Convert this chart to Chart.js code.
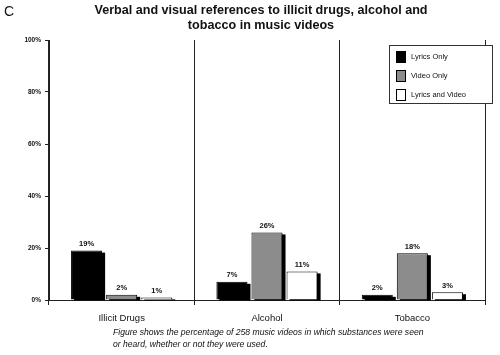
<!DOCTYPE html>
<html><head><meta charset="utf-8">
<script src="https://cdn.jsdelivr.net/npm/chart.js@4"></script>
<style>
html,body{margin:0;padding:0;background:#fff;}
#wrap{position:relative;width:500px;height:355px;font-family:"Liberation Sans",Arial,sans-serif;color:#111;}
canvas{position:absolute;left:0;top:0;}
#letter{position:absolute;left:4px;top:3px;font-size:14px;}
#title{position:absolute;left:61px;width:400px;top:3px;text-align:center;font-weight:bold;font-size:12.6px;line-height:15px;}
#caption{position:absolute;left:113px;top:326px;font-style:italic;font-size:8.6px;line-height:12px;}
#legend{position:absolute;left:389px;top:45px;width:102px;height:57px;border:1px solid #333;background:#fff;will-change:transform;-webkit-font-smoothing:antialiased;}
.li{position:absolute;left:6px;font-size:7.5px;color:#111;}
.sw{position:absolute;left:0;width:8px;height:10px;border:1px solid #000;}
.lt{position:absolute;left:15px;top:1px;white-space:nowrap;color:#111;}
</style></head>
<body><div id="wrap">
<canvas id="c" width="500" height="355"></canvas>
<div id="letter">C</div>
<div id="title">Verbal and visual references to illicit drugs, alcohol and<br>tobacco in music videos</div>
<div id="legend"></div>
<div id="caption">Figure shows the percentage of 258 music videos in which substances were seen<br>or heard, whether or not they were used.</div>
</div>
<script>
const categories = ["Illicit Drugs", "Alcohol", "Tobacco"];
const seriesNames = ["Lyrics Only", "Video Only", "Lyrics and Video"];
const lyricsOnly = [19, 7, 2];
const videoOnly = [2, 26, 18];
const lyricsAndVideo = [1, 11, 3];
const yTicks = [0, 20, 40, 60, 80, 100];
const colors = ["#000000", "#8c8c8c", "#ffffff"];

const leg = document.getElementById('legend');
seriesNames.forEach((n, i) => {
  const d = document.createElement('div');
  d.className = 'li';
  d.style.top = (5 + i * 19) + 'px';
  d.innerHTML = '<div class="sw" style="background:' + colors[i] + '"></div><div class="lt">' + n + '</div>';
  leg.appendChild(d);
});

const shadowPlugin = {
  id: 'shadow',
  beforeDatasetDraw(chart, args) {
    const ctx = chart.ctx;
    ctx.save();
    ctx.fillStyle = '#000';
    chart.getDatasetMeta(args.index).data.forEach(bar => {
      const p = bar.getProps(['x', 'y', 'base', 'width'], true);
      const h = p.base - p.y;
      ctx.fillRect(p.x - p.width / 2 + 3, p.y + 2, p.width, h - 1);
    });
    ctx.restore();
  }
};
const labelPlugin = {
  id: 'vlabels',
  afterDatasetsDraw(chart) {
    const ctx = chart.ctx;
    ctx.save();
    ctx.font = 'bold 7.5px "Liberation Sans", Arial, sans-serif';
    ctx.fillStyle = '#111';
    ctx.textAlign = 'center';
    ctx.textBaseline = 'bottom';
    chart.data.datasets.forEach((ds, di) => {
      chart.getDatasetMeta(di).data.forEach((bar, i) => {
        ctx.fillText(ds.data[i] + '%', bar.x, bar.y - 3);
      });
    });
    ctx.restore();
  }
};

new Chart(document.getElementById('c'), {
  type: 'bar',
  data: {
    labels: categories,
    datasets: [
      { label: seriesNames[0], data: lyricsOnly, backgroundColor: colors[0] },
      { label: seriesNames[1], data: videoOnly, backgroundColor: colors[1] },
      { label: seriesNames[2], data: lyricsAndVideo, backgroundColor: colors[2] }
    ].map(d => Object.assign(d, { borderColor: '#000', borderWidth: 1, categoryPercentage: 0.724, barPercentage: 0.886 }))
  },
  options: {
    responsive: false,
    animation: false,
    devicePixelRatio: 1,
    layout: { padding: { top: 40, right: 15, left: 0, bottom: 0 } },
    plugins: { legend: { display: false }, tooltip: { enabled: false }, title: { display: false } },
    scales: {
      x: {
        grid: { display: true, offset: true, color: '#222', lineWidth: 1, drawOnChartArea: true, tickLength: 5 },
        border: { display: true, color: '#222' },
        ticks: { color: '#111', font: { size: 9.5, family: '"Liberation Sans", Arial, sans-serif' }, padding: 8 },
        afterFit(s) { s.height = 55; }
      },
      y: {
        min: 0, max: 100,
        afterBuildTicks(s) { s.ticks = yTicks.map(v => ({ value: v })); },
        grid: { drawOnChartArea: false, color: '#222', tickLength: 4 },
        border: { display: true, color: '#222' },
        ticks: { color: '#111', font: { size: 6.5, weight: 'bold', family: '"Liberation Sans", Arial, sans-serif' }, padding: 4, callback: v => v + '%' },
        afterFit(s) { s.width = 49; }
      }
    }
  },
  plugins: [shadowPlugin, labelPlugin]
});
</script>
</body></html>
